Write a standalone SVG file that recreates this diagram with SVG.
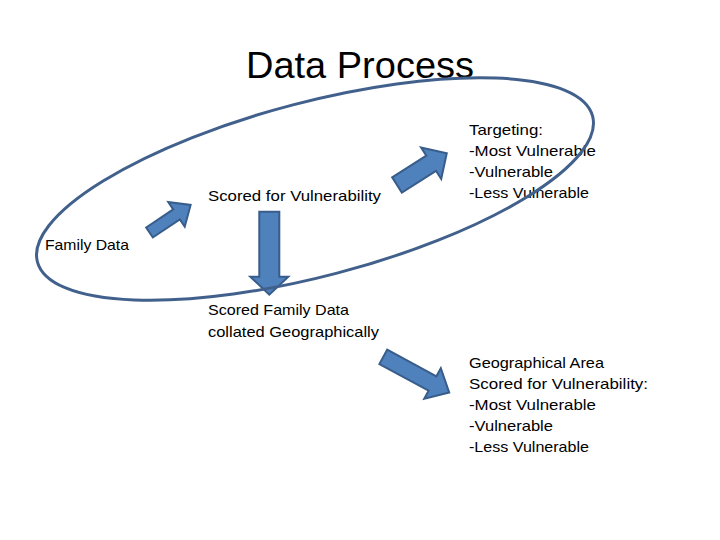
<svg xmlns="http://www.w3.org/2000/svg" width="720" height="540" viewBox="0 0 720 540">
  <style>
    .t { font-family: "Liberation Sans", Arial, sans-serif; font-size: 15px; fill: #000; }
    .title { font-family: "Liberation Sans", Arial, sans-serif; font-size: 36px; fill: #000; }
    .arrow { fill: #4f81bd; stroke: #385d8a; stroke-width: 2; stroke-linejoin: miter; }
    .ring { fill: none; stroke: #41618c; stroke-width: 3; }
  </style>
  <rect width="720" height="540" fill="#ffffff"/>
  <g id="title">
    <text class="title" x="246" y="78" textLength="228" lengthAdjust="spacingAndGlyphs">Data Process</text>
  </g>
  <g id="connectors">
    <polygon class="arrow" transform="translate(149.5 232.5) rotate(-33.8)" points="0,-6 32.5,-6 32.5,-14.8 49.5,0 32.5,14.8 32.5,6 0,6"/>
    <polygon class="arrow" transform="translate(397 185) rotate(-32.5)" points="0,-9 40.5,-9 40.5,-18.7 59,0 40.5,18.7 40.5,9 0,9"/>
    <polygon class="arrow" transform="translate(269.3 211.7) rotate(90)" points="0,-10 65,-10 65,-19 83,0 65,19 65,10 0,10"/>
    <polygon class="arrow" transform="translate(383.3 356.8) rotate(28.5)" points="0,-8.2 56,-8.2 56,-17.4 75,0 56,17.4 56,8.2 0,8.2"/>
  </g>
  <g id="family-data">
    <text class="t" x="45" y="250" textLength="84" lengthAdjust="spacingAndGlyphs">Family Data</text>
  </g>
  <g id="scored-vulnerability">
    <text class="t" x="208" y="201" textLength="173" lengthAdjust="spacingAndGlyphs">Scored for Vulnerability</text>
  </g>
  <g id="targeting">
    <text class="t" x="469" y="135" textLength="74" lengthAdjust="spacingAndGlyphs">Targeting:</text>
    <text class="t" x="469" y="156" textLength="127" lengthAdjust="spacingAndGlyphs">-Most Vulnerable</text>
    <text class="t" x="469" y="177" textLength="84" lengthAdjust="spacingAndGlyphs">-Vulnerable</text>
    <text class="t" x="469" y="198" textLength="120" lengthAdjust="spacingAndGlyphs">-Less Vulnerable</text>
  </g>
  <g id="scored-family-data">
    <text class="t" x="208" y="315" textLength="141" lengthAdjust="spacingAndGlyphs">Scored Family Data</text>
    <text class="t" x="208" y="337" textLength="171" lengthAdjust="spacingAndGlyphs">collated Geographically</text>
  </g>
  <g id="geographical-area">
    <text class="t" x="469" y="368" textLength="135" lengthAdjust="spacingAndGlyphs">Geographical Area</text>
    <text class="t" x="469" y="389" textLength="179" lengthAdjust="spacingAndGlyphs">Scored for Vulnerability:</text>
    <text class="t" x="469" y="410" textLength="127" lengthAdjust="spacingAndGlyphs">-Most Vulnerable</text>
    <text class="t" x="469" y="431" textLength="84" lengthAdjust="spacingAndGlyphs">-Vulnerable</text>
    <text class="t" x="469" y="452" textLength="120" lengthAdjust="spacingAndGlyphs">-Less Vulnerable</text>
  </g>
  <g id="process-ring">
    <ellipse class="ring" cx="315" cy="189" rx="287" ry="87" transform="rotate(-14.7 315 189)"/>
  </g>
</svg>
